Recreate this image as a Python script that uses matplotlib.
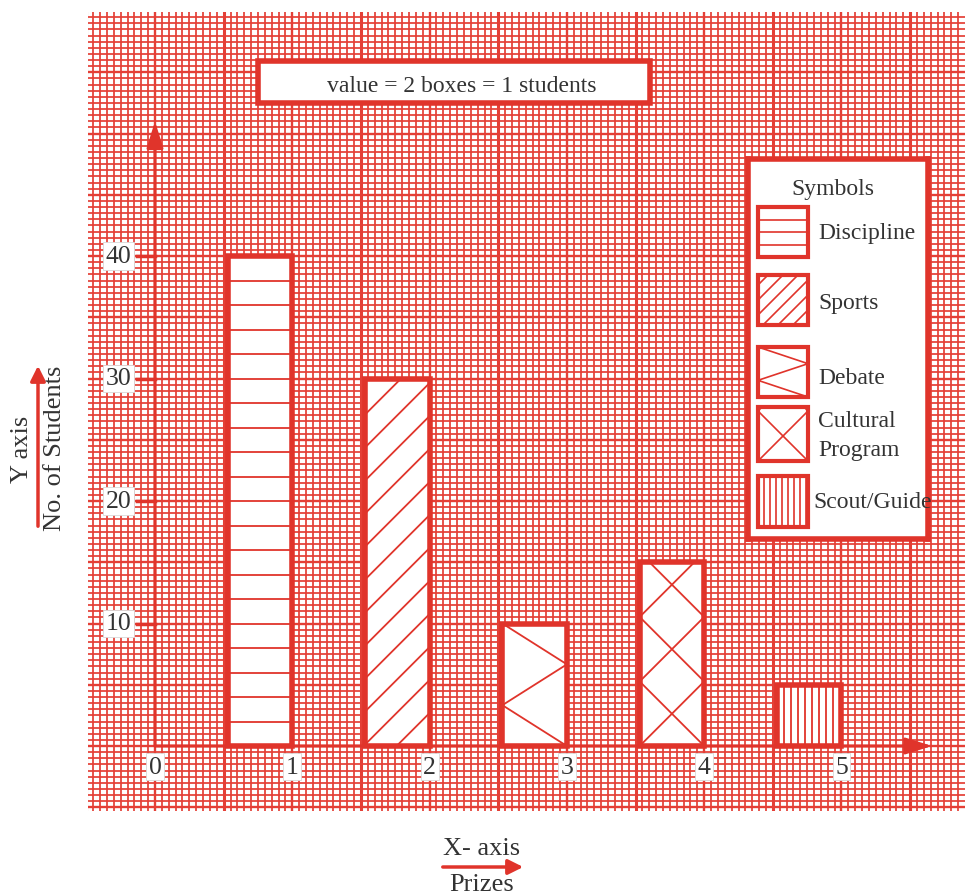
import numpy as np
import matplotlib.pyplot as plt
from matplotlib.patches import Rectangle, FancyArrowPatch

#--------data--------
prizes = [1, 2, 3, 4, 5]
students = [40, 30, 10, 15, 5]
symbols = ["Discipline", "Sports", "Debate", "Cultural\nProgram", "Scout/Guide"]
patterns = ["h", "d", "z", "x", "v"]
y_ticks = [10, 20, 30, 40]
x_ticks = [0, 1, 2, 3, 4, 5]
note = "value = 2 boxes = 1 students"

#--------config--------
RED = "#e0342b"
GRID = "#e43f36"
INK = "#333333"
BAR_W = 0.47
W, H = 970, 895

plt.rcParams['font.family'] = ['Liberation Serif', 'DejaVu Serif']


def rect(x0, y0, x1, y1):
  # pixel box (top-left origin) -> figure fraction
  return [x0 / W, 1 - y1 / H, (x1 - x0) / W, (y1 - y0) / H]


def fpt(x, y):
  return (x / W, 1 - y / H)


def hatch(ax, kind, x0, x1, y0, y1, sx, sy, gap, clip, lw=1.3):
  # draw pattern inside box, working in pixel units
  w = (x1 - x0) * sx
  h = (y1 - y0) * sy
  paths = []
  if kind == "h":
    for p in np.arange(gap, h - 2, gap):
      paths.append([(0, p), (w, p)])
  elif kind == "v":
    for p in np.arange(gap, w - 1, gap):
      paths.append([(p, 0), (p, h)])
  elif kind == "d":
    for c in np.arange(-w, h, gap):
      paths.append([(0, c), (w, c + w)])
  elif kind == "z":
    paths.append([(0, h), (w, 2 * h / 3), (0, h / 3), (w, 0)])
  elif kind == "x":
    n = int(np.ceil(h / w)) + 1
    paths.append([(w * (k % 2), k * w) for k in range(n + 1)])
    paths.append([(w * ((k + 1) % 2), k * w) for k in range(n + 1)])
  for pts in paths:
    pts = np.array(pts, dtype=float)
    line, = ax.plot(x0 + pts[:, 0] / sx, y0 + pts[:, 1] / sy, color=RED, lw=lw,
                    zorder=4, solid_capstyle="butt")
    line.set_clip_path(clip)


fig = plt.figure(figsize=(W / 100, H / 100), dpi=100)

# main graph paper axes
SX, SY = 137.3, 12.25
ax = fig.add_axes(rect(88, 13, 965, 812))
ax.set_xlim((88 - 155) / SX, (965 - 155) / SX)
ax.set_ylim((747 - 812) / SY, (747 - 13) / SY)
ax.axis("off")

xlo, xhi = ax.get_xlim()
ylo, yhi = ax.get_ylim()
for k in range(0, int((xhi + 0.5) * 20) + 1):
  gx = -0.5 + k / 20
  if k % 20 == 0:
    lw = 2.2
  elif k % 10 == 0:
    lw = 1.7
  else:
    lw = 1.25
  ax.axvline(gx, color=GRID, lw=lw, zorder=1)
for k in range(int(np.floor(ylo * 2)), int(yhi * 2) + 1):
  gy = k / 2
  lw = 1.7 if k % 10 == 0 else 1.25
  ax.axhline(gy, color=GRID, lw=lw, zorder=1)

# bars
lefts = np.array(prizes) - BAR_W
bars = ax.bar(lefts, students, width=BAR_W, align="edge", color="white",
              edgecolor=RED, linewidth=4, zorder=3)
gaps = {"h": 2 * SY, "d": 33, "v": 7, "z": 0, "x": 0}
for patch, kind in zip(bars.patches, patterns):
  bx0 = patch.get_x()
  by1 = patch.get_height()
  hatch(ax, kind, bx0, bx0 + patch.get_width(), 0, by1, SX, SY, gaps[kind], patch)

# axes arrows
ax.annotate("", xy=(0, 51), xytext=(0, 0), zorder=5,
            arrowprops=dict(arrowstyle="-|>,head_length=0.8,head_width=0.25",
                            mutation_scale=20, color=RED, lw=2.2, shrinkA=0, shrinkB=0))
ax.annotate("", xy=(5.66, 0), xytext=(0, 0), zorder=5,
            arrowprops=dict(arrowstyle="-|>,head_length=0.8,head_width=0.25",
                            mutation_scale=20, color=RED, lw=2.2, shrinkA=0, shrinkB=0))

box = dict(boxstyle="square,pad=0.1", fc="white", ec="#d8d8d8", lw=0.6)
for t in y_ticks:
  ax.plot([-0.13, 0], [t, t], color=RED, lw=2.5, zorder=5)
  ax.text(-0.265, t, str(t), ha="center", va="center", fontsize=18.5, color=INK,
          bbox=box, zorder=6)
for t in x_ticks:
  ax.text(t, -1.7, str(t), ha="center", va="center", fontsize=18.5, color=INK,
          bbox=box, zorder=6)

# caption box
fig.add_artist(Rectangle(fpt(258, 104), 392 / W, 42 / H, transform=fig.transFigure,
                         fc="white", ec=RED, lw=4, zorder=3))
fig.text(*fpt(462, 86), note, ha="center", va="center", fontsize=17, color=INK, zorder=4)

# legend of symbols
lg = fig.add_axes(rect(748, 160, 928, 540))
lg.set_zorder(3)
lg.set_xlim(0, 180)
lg.set_ylim(0, 380)
lg.set_xticks([])
lg.set_yticks([])
lg.set_facecolor("white")
for s in lg.spines.values():
  s.set_color(RED)
  s.set_linewidth(4)

lg.text(833 - 748, 540 - 189, "Symbols", ha="center", va="center", fontsize=17, color=INK)
sw_rows = [(208, 258), (276, 326), (348, 398), (408, 462), (477, 528)]
lab_pos = [(818, 233), (818, 304), (818, 378), (818, 436), (813, 503)]
lg_gaps = {"h": 12.5, "d": 15, "v": 6, "z": 0, "x": 0}
for name, kind, (top, bot), (lx, ly) in zip(symbols, patterns, sw_rows, lab_pos):
  sw = Rectangle((10, 540 - bot), 50, bot - top, fc="white", ec=RED, lw=3, zorder=3)
  lg.add_patch(sw)
  hatch(lg, kind, 10, 60, 540 - bot, 540 - top, 1, 1, lg_gaps[kind], sw, lw=1.2)
  lg.text(lx - 748, 540 - ly, name, ha="left", va="center", fontsize=17, color=INK,
          linespacing=1.45, clip_on=False)

# axis titles outside the paper
fig.text(*fpt(22, 449), "Y axis", rotation=90, ha="center", va="center", fontsize=19, color=INK)
fig.text(*fpt(55, 448), "No. of Students", rotation=90, ha="center", va="center",
         fontsize=19, color=INK)
fig.add_artist(FancyArrowPatch(fpt(38, 530), fpt(38, 364), transform=fig.transFigure,
                               arrowstyle="-|>,head_length=0.6,head_width=0.3",
                               mutation_scale=15, color=RED, lw=2.5))
fig.text(*fpt(482, 849), "X- axis", ha="center", va="center", fontsize=19, color=INK)
fig.add_artist(FancyArrowPatch(fpt(440, 868), fpt(526, 868), transform=fig.transFigure,
                               arrowstyle="-|>,head_length=0.6,head_width=0.3",
                               mutation_scale=15, color=RED, lw=2.5))
fig.text(*fpt(482, 885), "Prizes", ha="center", va="center", fontsize=19, color=INK)

fig.savefig("out.png", dpi=100)
